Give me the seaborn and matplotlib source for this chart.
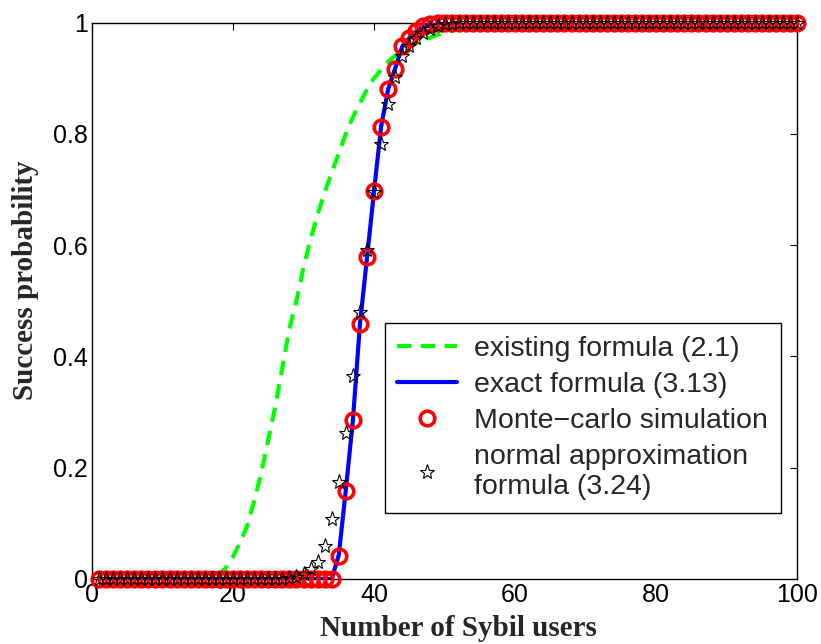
import numpy as np
import pandas as pd
import matplotlib
matplotlib.use("Agg")
import matplotlib.pyplot as plt
import seaborn as sns

# ---- data ----
sybil_users = list(range(1, 101))

existing_rise = [0.008, 0.020, 0.040, 0.065, 0.095, 0.140, 0.190, 0.250, 0.310,
                 0.380, 0.450, 0.500, 0.560, 0.610, 0.655, 0.695, 0.730, 0.765,
                 0.800, 0.830, 0.855, 0.880, 0.900, 0.915, 0.930, 0.940, 0.950,
                 0.957, 0.963, 0.968, 0.973, 0.978, 0.982, 0.985, 0.988, 0.991,
                 0.993, 0.995, 0.997, 0.998, 0.999]          # x = 18..58
existing_formula = [0.0] * 17 + existing_rise + [1.0] * 42

exact_rise = [0.043, 0.160, 0.285, 0.458, 0.577, 0.697, 0.813, 0.880, 0.918,
              0.957, 0.972, 0.984, 0.993, 0.997, 0.999]       # x = 35..49
exact_formula = [0.0] * 34 + exact_rise + [1.0] * 51

mc_rise = [0.042, 0.158, 0.286, 0.458, 0.578, 0.697, 0.812, 0.880, 0.917,
           0.957, 0.973, 0.985, 0.993, 0.997, 0.999]          # x = 35..49
monte_carlo = [0.0] * 34 + mc_rise + [1.0] * 51

normal_rise = [0.001, 0.004, 0.009, 0.017, 0.031, 0.060, 0.107, 0.175, 0.262,
               0.365, 0.479, 0.591, 0.696, 0.782, 0.853, 0.903, 0.939, 0.958,
               0.972, 0.982, 0.989, 0.994, 0.997, 0.998, 0.999]  # x = 28..52
normal_approx = [0.0] * 27 + normal_rise + [1.0] * 48

x_ticks = [0, 20, 40, 60, 80, 100]
y_ticks = [0, 0.2, 0.4, 0.6, 0.8, 1]
y_tick_labels = ["0", "0.2", "0.4", "0.6", "0.8", "1"]

df = pd.DataFrame({"x": sybil_users, "existing": existing_formula,
                   "exact": exact_formula, "mc": monte_carlo,
                   "normal": normal_approx})

sns.set_style("white")
plt.rcParams["font.family"] = ["Liberation Sans", "DejaVu Sans"]

fig = plt.figure(figsize=(8.21, 6.44), dpi=100)
ax = fig.add_axes([0.112, 0.101, 0.859, 0.864])

sns.lineplot(data=df, x="x", y="existing", ax=ax, color=(0, 1, 0), lw=3,
             label="existing formula (2.1)", zorder=2)
ax.lines[-1].set_dashes((3.5, 2.2))
sns.lineplot(data=df, x="x", y="exact", ax=ax, color=(0, 0, 1), lw=3,
             label="exact formula (3.13)", zorder=3)
sns.lineplot(data=df, x="x", y="mc", ax=ax, color="red", linestyle="none",
             marker="o", markersize=10.5, markerfacecolor="none",
             markeredgecolor="red", markeredgewidth=2.6,
             label="Monte\u2212carlo simulation", zorder=4, clip_on=False)
sns.lineplot(data=df, x="x", y="normal", ax=ax, color="black", linestyle="none",
             marker="*", markersize=11, markerfacecolor="none",
             markeredgecolor="black", markeredgewidth=0.8,
             label="normal approximation\nformula (3.24)", zorder=5,
             clip_on=False)

ax.set_xlim(0, 100)
ax.set_ylim(0, 1)
ax.set_xticks(x_ticks)
ax.set_yticks(y_ticks)
ax.set_yticklabels(y_tick_labels)
ax.tick_params(direction="in", length=5, width=0.8, top=True, right=True,
               labelsize=18, pad=3, colors="black")
for s in ax.spines.values():
    s.set_visible(True)
    s.set_color("black")
    s.set_linewidth(1.0)
    s.set_zorder(1)

ax.set_xlabel("Number of Sybil users", fontfamily="Liberation Serif",
              fontweight="bold", fontsize=21)
ax.set_ylabel("Success probability", fontfamily="Liberation Serif",
              fontweight="bold", fontsize=21)
ax.xaxis.set_label_coords(0.52, -0.064)
ax.yaxis.set_label_coords(-0.075, 0.537)

leg = ax.legend(loc="lower right", bbox_to_anchor=(0.977, 0.1186),
                fontsize=20.5, frameon=True, fancybox=False, framealpha=1,
                edgecolor="black", handlelength=2.1, labelspacing=0.35,
                borderpad=0.45, handletextpad=0.6, borderaxespad=0)
leg.get_frame().set_linewidth(1.0)
leg.set_zorder(10)

fig.savefig("out.png", dpi=100)
